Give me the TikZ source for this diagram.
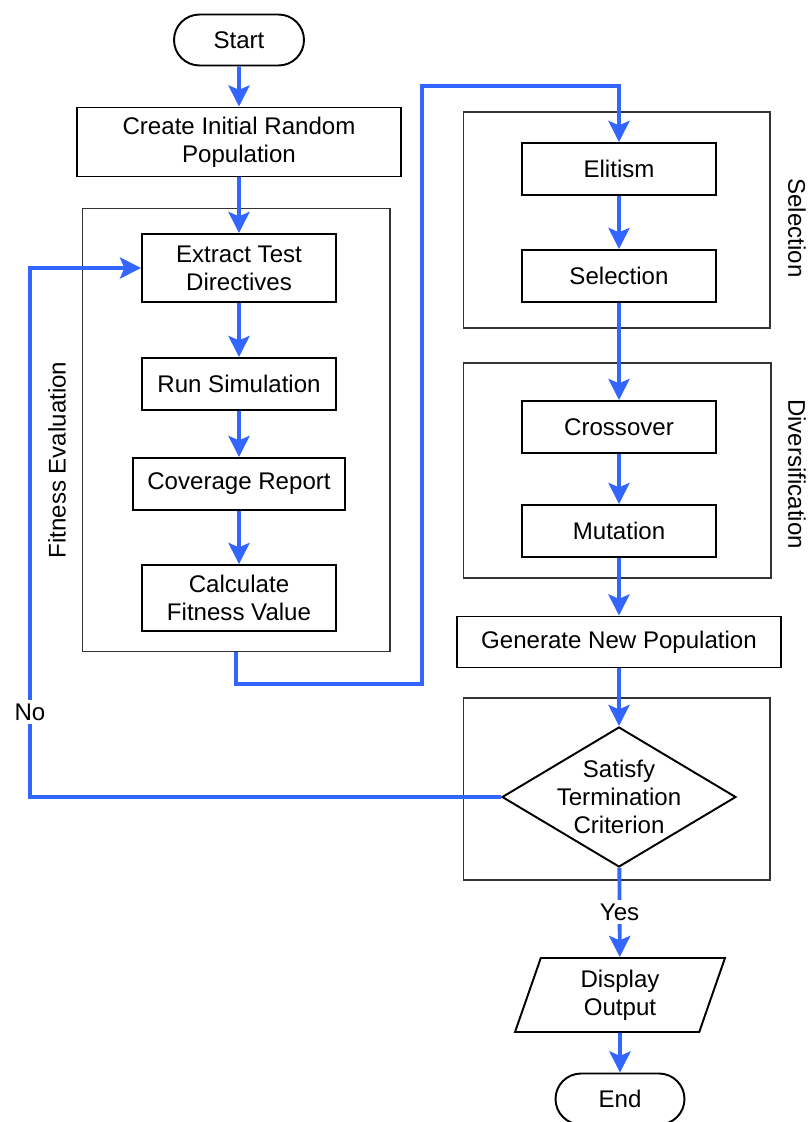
\documentclass[tikz,border=0pt]{standalone}
\usepackage{fontspec}
\setmainfont{Liberation Sans}
\usetikzlibrary{shapes.geometric,shapes.misc,arrows.meta}
\definecolor{flowblue}{RGB}{51,102,255}

\begin{document}
\begin{tikzpicture}[x=0.02cm,y=-0.02cm,
	every node/.style={font=\fontsize{13.7}{16}\selectfont, align=center, inner sep=0pt},
	proc/.style={draw, line width=1.1pt, rectangle, minimum width=3.88cm, minimum height=1.04cm},
	term/.style={draw, line width=1.1pt, rounded rectangle, minimum width=2.6cm, minimum height=1.02cm},
	group/.style={draw=black!80, line width=0.6pt, rectangle},
	flow/.style={draw=flowblue, line width=2.2pt, -{Stealth[length=12pt,width=12pt,inset=2.5pt]}},
	tag/.style={fill=white, inner sep=2pt}]
	\useasboundingbox (0,0) rectangle (810,1122);
	% Groups
	\node[group, minimum width=6.16cm, minimum height=8.88cm] (fitbox) at (236,430) {};
	\node[group, minimum width=6.14cm, minimum height=4.32cm] (selbox) at (616.5,220) {};
	\node[group, minimum width=6.16cm, minimum height=4.30cm] (divbox) at (617,470.5) {};
	\node[group, minimum width=6.14cm, minimum height=3.64cm] (termbox) at (616.5,789) {};
	% Nodes
	\node[term] (start) at (239,40) {Start};
	\node[proc, minimum width=6.48cm, minimum height=1.38cm] (create) at (239,142) {Create Initial Random\\Population};
	\node[proc, minimum height=1.36cm] (extract) at (239,268) {Extract Test\\Directives};
	\node[proc] (run) at (239,384) {Run Simulation};
	\node[proc, minimum width=4.24cm] (cov) at (239,484) {Coverage Report};
	\node[proc, minimum height=1.32cm] (calc) at (239,598) {Calculate\\Fitness Value};
	\node[proc] (elitism) at (619,169) {Elitism};
	\node[proc] (select) at (619,276) {Selection};
	\node[proc] (cross) at (619,427) {Crossover};
	\node[proc] (mutate) at (619,531) {Mutation};
	\node[proc, minimum width=6.48cm, minimum height=1.02cm] (generate) at (619,642) {Generate New Population};
	\node[draw, line width=1.1pt, diamond, aspect=1.67, inner sep=-4pt, minimum width=4.68cm, minimum height=2.8cm] (decision) at (619,797) {Satisfy\\Termination\\Criterion};
	\node[draw, line width=1.1pt, trapezium, trapezium left angle=63, trapezium right angle=117, trapezium stretches body, minimum width=4.2cm, minimum height=1.48cm] (display) at (620,995) {Display\\Output};
	\node[term, minimum width=2.58cm] (end) at (620,1099) {End};
	\coordinate (loopA) at (422,684);
	\coordinate (loopB) at (422,86);
	\coordinate (noA) at (30,797);
	% Arrows
	\draw[flow] (start) -- (create);
	\draw[flow] (create) -- (extract);
	\draw[flow] (extract) -- (run);
	\draw[flow] (run) -- (cov);
	\draw[flow] (cov) -- (calc);
	\draw[flow] (fitbox.south) |- (loopA) -- (loopB) -| (elitism.north);
	\draw[flow] (elitism) -- (select);
	\draw[flow] (select) -- (cross);
	\draw[flow] (cross) -- (mutate);
	\draw[flow] (mutate) -- (generate);
	\draw[flow] (generate) -- (decision);
	\draw[flow] (decision) -- node[tag] {Yes} (display);
	\draw[flow] (display) -- (end);
	\draw[flow] (decision.west) -- (noA) |- node[tag, pos=0.08] {No} (extract.west);
	% Labels
	\node[rotate=90] (fitlabel) at (57,460) {Fitness Evaluation};
	\node[rotate=-90] (sellabel) at (797,228) {Selection};
	\node[rotate=-90] (divlabel) at (797,474) {Diversification};
\end{tikzpicture}
\end{document}
